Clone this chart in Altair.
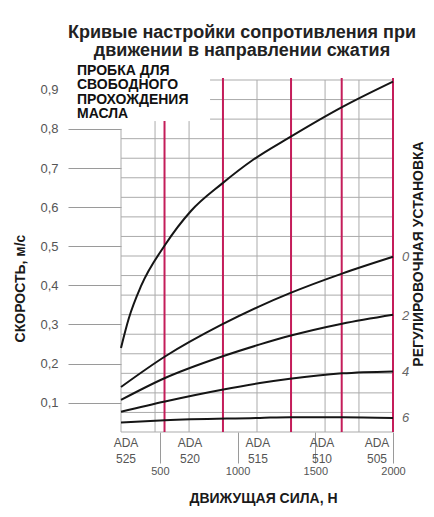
import altair as alt
import pandas as pd

FONT = "Liberation Sans"

title_lines = ["Кривые настройки сопротивления при", "движении в направлении сжатия"]
x_title = "ДВИЖУЩАЯ СИЛА, Н"
y_title = "СКОРОСТЬ, м/с"
right_title = "РЕГУЛИРОВОЧНАЯ УСТАНОВКА"
plug_note = "ПРОБКА ДЛЯ\nСВОБОДНОГО\nПРОХОЖДЕНИЯ\nМАСЛА"

# curves (force N, speed m/s)
free_force = [250, 300, 380, 533, 700, 900, 1100, 1337, 1678, 2000]
free_speed = [0.24, 0.315, 0.399, 0.503, 0.59, 0.660, 0.721, 0.779, 0.857, 0.921]
set0_force = [250, 533, 900, 1144, 1337, 1672, 2000]
set0_speed = [0.14, 0.218, 0.300, 0.347, 0.380, 0.430, 0.473]
set2_force = [250, 533, 900, 1144, 1337, 1672, 2000]
set2_speed = [0.107, 0.163, 0.218, 0.249, 0.271, 0.302, 0.325]
set4_force = [250, 533, 900, 1144, 1337, 1672, 2000]
set4_speed = [0.077, 0.103, 0.133, 0.150, 0.161, 0.175, 0.180]
set6_force = [250, 533, 1144, 1337, 1672, 2000]
set6_speed = [0.049, 0.055, 0.061, 0.063, 0.063, 0.061]

setting_labels = ["0", "2", "4", "6"]
setting_end_speed = [0.473, 0.322, 0.179, 0.061]

model_names = ["ADA\n525", "ADA\n520", "ADA\n515", "ADA\n510", "ADA\n505"]
model_centers = [282, 694, 1131, 1543, 1897]
model_bounds = [530, 906, 1344, 1670, 2000]
model_bounds_top = [0.82, 0.93, 0.93, 0.93, 0.93]

x_ticks = [500, 1000, 1500, 2000]
y_ticks = [0.1, 0.2, 0.3, 0.4, 0.5, 0.6, 0.7, 0.8, 0.9]

grid_force = [250, 469, 688, 906, 1125, 1344, 1563, 1781, 2000]
grid_force_top = [0.80, 0.82, 0.82, 0.925, 0.925, 0.925, 0.925, 0.925, 0.925]
grid_speed = [0.025, 0.075, 0.125, 0.175, 0.225, 0.275, 0.325, 0.375, 0.425,
              0.475, 0.525, 0.575, 0.625, 0.675, 0.725, 0.775, 0.825, 0.875, 0.925]
grid_speed_start = [250] * 16 + [823] * 3

x_min, x_max = 250, 2000
y_min, y_max = 0.025, 0.925

# ---- tables
rows = []
for name, fx, sv in [("free", free_force, free_speed), ("0", set0_force, set0_speed),
                     ("2", set2_force, set2_speed), ("4", set4_force, set4_speed),
                     ("6", set6_force, set6_speed)]:
    for f, s in zip(fx, sv):
        rows.append({"series": name, "force": f, "speed": s})
curves_df = pd.DataFrame(rows)

hgrid_df = pd.DataFrame({"force": grid_speed_start, "force_end": [x_max] * len(grid_speed),
                         "speed": grid_speed})
vgrid_df = pd.DataFrame({"force": grid_force, "speed": [y_min] * len(grid_force),
                         "speed_end": grid_force_top})
red_df = pd.DataFrame({"force": model_bounds, "speed": [y_min] * len(model_bounds),
                       "speed_end": model_bounds_top})
model_df = pd.DataFrame({"force": model_centers, "label": model_names})
setting_df = pd.DataFrame({"force": [x_max] * 4, "speed": setting_end_speed,
                           "label": setting_labels})
note_df = pd.DataFrame({"label": [plug_note]})
right_df = pd.DataFrame({"label": [right_title]})

xs = alt.Scale(domain=[x_min, x_max], nice=False, zero=False)
ys = alt.Scale(domain=[y_min, y_max], nice=False, zero=False)

x_axis = alt.Axis(values=x_ticks, tickSize=31, tickColor="#9a9a9a", tickWidth=1,
                  labelPadding=2, labelFontSize=11, labelColor="#555", labelFont=FONT,
                  labelFlush=False, labelOverlap=False, format="d",
                  domain=False, grid=False,
                  title=x_title, titleFont=FONT, titleFontSize=14, titleFontWeight="bold",
                  titleColor="#1a1a1a", titleX=142, titleY=66, titleAlign="center",
                  titleBaseline="middle")
y_axis = alt.Axis(values=y_ticks, tickSize=53, tickColor="#9a9a9a", tickWidth=1.2,
                  tickOpacity={"condition": {"test": "datum.value > 0.85", "value": 0}, "value": 1},
                  labelExpr="replace(format(datum.value, '.1f'), '.', ',')",
                  labelPadding=10, labelFontSize=13, labelColor="#555", labelFont=FONT,
                  domain=False, grid=False,
                  title=y_title, titleFont=FONT, titleFontSize=14, titleFontWeight="bold",
                  titleColor="#1a1a1a", titleX=-101, titleY=208, titleAngle=270,
                  titleAlign="center", titleBaseline="middle")

X = alt.X("force:Q", scale=xs, axis=x_axis)
Y = alt.Y("speed:Q", scale=ys, axis=y_axis)

hgrid = alt.Chart(hgrid_df).mark_rule(color="#ababab", strokeWidth=1).encode(
    x=X, x2="force_end:Q", y=Y)
vgrid = alt.Chart(vgrid_df).mark_rule(color="#ababab", strokeWidth=1).encode(
    x=X, y=Y, y2="speed_end:Q")
red = alt.Chart(red_df).mark_rule(color="#c41d5a", strokeWidth=2).encode(
    x=X, y=Y, y2="speed_end:Q")
curves = alt.Chart(curves_df).mark_line(interpolate="monotone", strokeWidth=2,
                                        color="#151515").encode(
    x=X, y=Y, detail="series:N")
setting_text = alt.Chart(setting_df).mark_text(align="left", baseline="middle", dx=9,
                                               font=FONT, fontSize=13, fontStyle="italic",
                                               color="#666").encode(
    x=X, y=Y, text="label:N")
model_text = alt.Chart(model_df).mark_text(align="center", baseline="top", lineBreak="\n",
                                           lineHeight=15.5, font=FONT, fontSize=12,
                                           color="#555").encode(
    x=X, y=alt.value(358), text="label:N")
note_text = alt.Chart(note_df).mark_text(align="left", baseline="top", lineBreak="\n",
                                         lineHeight=14.3, font=FONT, fontSize=14,
                                         fontWeight="bold", color="#111").encode(
    x=alt.value(-44), y=alt.value(-16), text="label:N")
right_text = alt.Chart(right_df).mark_text(align="center", baseline="middle", angle=270,
                                           font=FONT, fontSize=14, fontWeight="bold",
                                           color="#1a1a1a").encode(
    x=alt.value(298), y=alt.value(174), text="label:N")

chart = alt.layer(hgrid, vgrid, red, curves, setting_text, model_text, note_text,
                  right_text).properties(
    width=272, height=352,
    autosize=alt.AutoSizeParams(type="none"),
    padding={"left": 113, "top": 72, "right": 33, "bottom": 77},
    title=alt.TitleParams(text=title_lines, font=FONT, fontSize=18, fontWeight="bold",
                          color="#222", anchor="middle", dx=-15, offset=4,
                          lineHeight=18),
    background="white",
).configure_view(stroke=None)

chart.save("out.html", embed_options={"renderer": "svg", "actions": False})
